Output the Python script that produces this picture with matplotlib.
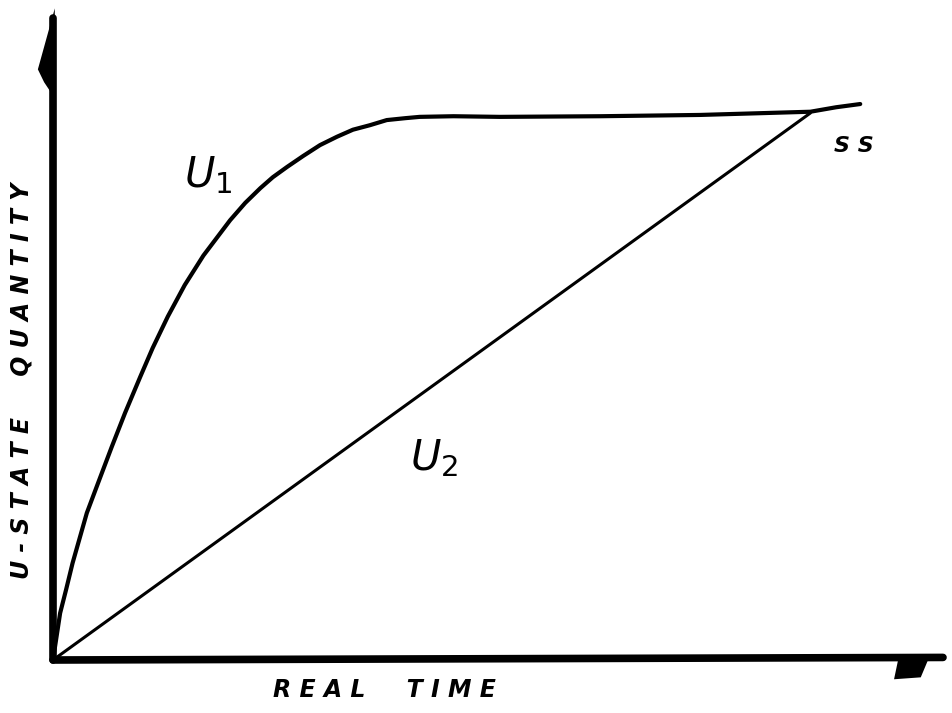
import matplotlib.pyplot as plt

# hand-drawn sketch: U1 saturates toward steady state, U2 rises linearly
u1_time = [0.0, 0.034, 0.08, 0.146, 0.22, 0.30, 0.38, 0.51, 0.66, 0.81, 0.98, 1.12,
           1.29, 1.48, 1.69, 1.99, 2.16, 2.33, 2.47, 2.63, 2.81, 3.00, 3.19, 3.37,
           3.56, 3.75, 3.96, 4.12, 4.50, 5.02, 6.15, 7.27, 8.51, 8.80, 9.07]
u1_value = [0.0, 0.31, 0.73, 1.09, 1.51, 1.90, 2.29, 2.77, 3.32, 3.85, 4.41, 4.86,
            5.35, 5.84, 6.30, 6.85, 7.12, 7.35, 7.52, 7.68, 7.85, 8.02, 8.15, 8.26,
            8.33, 8.41, 8.44, 8.46, 8.47, 8.46, 8.47, 8.49, 8.54, 8.61, 8.66]

u2_time = [0.0, 8.51]
u2_value = [0.0, 8.52]

X_MAX = 10.0
Y_MAX = 10.0

fig = plt.figure(figsize=(9.53, 7.13), dpi=100)
ax = fig.add_axes([53 / 953, 53 / 713, 890 / 953, 642 / 713])
ax.set_xlim(0, X_MAX)
ax.set_ylim(0, Y_MAX)
ax.axis("off")

ink = "black"

# curves
ax.plot(u1_time, u1_value, color=ink, linewidth=3.0, solid_capstyle="round",
        solid_joinstyle="round", clip_on=False)
ax.plot(u2_time, u2_value, color=ink, linewidth=2.2, solid_capstyle="round", clip_on=False)

# axes drawn as thick pen strokes
ax.plot([0, 0], [0, Y_MAX], color=ink, linewidth=5.5, solid_capstyle="round", clip_on=False)
ax.plot([0, X_MAX], [0, 0.04], color=ink, linewidth=5.5, solid_capstyle="round", clip_on=False)

# one-sided arrow barbs
ax.fill([0.02, -0.17, -0.10, 0.02], [Y_MAX * 1.015, Y_MAX * 0.92, Y_MAX * 0.90, Y_MAX * 0.875],
        color=ink, clip_on=False, linewidth=0)
ax.fill([X_MAX * 0.95, X_MAX * 0.985, X_MAX * 0.975, X_MAX * 0.945],
        [0.03, 0.06, -0.27, -0.30], color=ink, clip_on=False, linewidth=0)

hand = dict(family="DejaVu Sans", fontweight="bold", style="italic", color=ink)

ax.text(-0.35, 4.35, "U - S T A T E     Q U A N T I T Y", rotation=90, ha="center",
        va="center", fontsize=17, **hand)
ax.text(3.72, -0.46, "R E A L     T I M E", ha="center", va="center", fontsize=17, **hand)
ax.text(9.0, 8.0, "S S", ha="center", va="center", fontsize=16, **hand)

ax.text(1.74, 7.55, "$U_1$", ha="center", va="center", fontsize=30, color=ink)
ax.text(4.28, 3.15, "$U_2$", ha="center", va="center", fontsize=30, color=ink)

fig.savefig("out.png", dpi=100, facecolor="white")
